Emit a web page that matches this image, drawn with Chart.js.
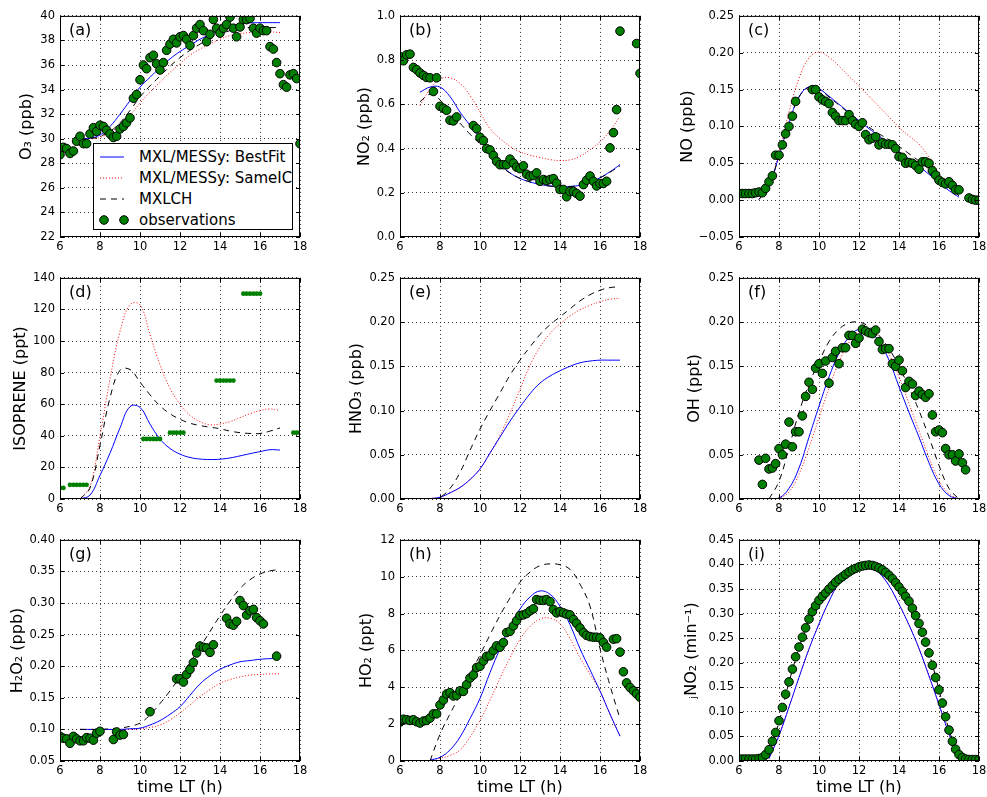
<!DOCTYPE html>
<html>
<head>
<meta charset="utf-8">
<script src="https://cdn.jsdelivr.net/npm/chart.js@4.4.0/dist/chart.umd.min.js"></script>
<style>
  html, body { margin: 0; padding: 0; background: #fff; }
  body { width: 987px; height: 797px; position: relative; overflow: hidden; font-family: "DejaVu Sans", sans-serif; }
  canvas { position: absolute; }
  .plab { position: absolute; font-size: 16px; line-height: 16px; color: #000; z-index: 5; }
  #legend { position: absolute; left: 93px; top: 143px; width: 200px; height: 87px; box-sizing: border-box;
            border: 1px solid #000; background: #fff; z-index: 6; font-size: 15px; color: #000; }
  #legend .row { position: absolute; left: 0; height: 20px; width: 198px; }
  #legend svg { position: absolute; left: 0; top: 0; }
  #legend span { position: absolute; left: 45px; top: 1px; line-height: 18px; white-space: nowrap; }
</style>
</head>
<body>

<div id="legend">
  <div class="row" style="top:3px">
    <svg width="40" height="20"><line x1="6" y1="10" x2="30" y2="10" stroke="#0000ff" stroke-width="1"/></svg>
    <span>MXL/MESSy: BestFit</span>
  </div>
  <div class="row" style="top:24px">
    <svg width="40" height="20"><line x1="6" y1="10" x2="30" y2="10" stroke="#ff0000" stroke-width="1" stroke-dasharray="1 2"/></svg>
    <span>MXL/MESSy: SameIC</span>
  </div>
  <div class="row" style="top:45px">
    <svg width="40" height="20"><line x1="6" y1="10" x2="30" y2="10" stroke="#000" stroke-width="1" stroke-dasharray="6 5"/></svg>
    <span>MXLCH</span>
  </div>
  <div class="row" style="top:66px">
    <svg width="40" height="20"><circle cx="10" cy="10" r="4.3" fill="#008000" stroke="#000" stroke-width="1"/><circle cx="30" cy="10" r="4.3" fill="#008000" stroke="#000" stroke-width="1"/></svg>
    <span>observations</span>
  </div>
</div>

<script>
// ---------------------------
// Shared time axes
// ---------------------------
const xTicks = [6, 8, 10, 12, 14, 16, 18];
const modelT = [7, 7.5, 8, 8.5, 9, 9.5, 10, 10.5, 11, 11.5, 12, 12.5, 13, 13.5, 14, 14.5, 15, 15.5, 16, 16.5, 17];
const obsT = [
  6.00, 6.17, 6.33, 6.50, 6.67, 6.83,
  7.00, 7.17, 7.33, 7.50, 7.67, 7.83,
  8.00, 8.17, 8.33, 8.50, 8.67, 8.83,
  9.00, 9.17, 9.33, 9.50, 9.67, 9.83,
  10.00, 10.17, 10.33, 10.50, 10.67, 10.83,
  11.00, 11.17, 11.33, 11.50, 11.67, 11.83,
  12.00, 12.17, 12.33, 12.50, 12.67, 12.83,
  13.00, 13.17, 13.33, 13.50, 13.67, 13.83,
  14.00, 14.17, 14.33, 14.50, 14.67, 14.83,
  15.00, 15.17, 15.33, 15.50, 15.67, 15.83,
  16.00, 16.17, 16.33, 16.50, 16.67, 16.83,
  17.00, 17.17, 17.33, 17.50, 17.67, 17.83,
  18.00
];

// ---------------------------
// (a) O3 (ppb)
// ---------------------------
const o3Ticks = [22, 24, 26, 28, 30, 32, 34, 36, 38, 40];
const o3Obs = [
  28.7, 29.3, 29.2, 28.8, 29.0, 29.8,
  30.2, 29.6, 29.6, 30.4, 30.9, 30.6,
  31.1, 31.0, 30.7, 30.4, 30.1, 30.2,
  30.8, 31.0, 31.3, 31.7, 33.3, 33.6,
  34.8, 36.0, 35.7, 36.6, 36.8, 36.1,
  35.6, 36.2, 37.2, 37.7, 38.1, 37.8,
  38.3, 38.4, 38.1, 37.6, 38.4, 39.0,
  39.3, 38.8, 37.9, 38.5, 39.7, 39.0,
  38.6, 39.0, 39.3, 39.9, 39.0, 38.3,
  39.1, 39.7, 39.7, 39.8, 39.0, 38.6,
  39.0, 38.8, 38.8, 37.5, 37.3, 36.2,
  35.3, 34.4, 34.2, 35.2, 35.3, 34.9,
  29.6
];
const o3Best  = [30.0, 30.05, 30.3, 31.0, 32.0, 33.1, 34.2, 35.0, 35.8, 36.5, 37.1, 37.6, 38.1, 38.5, 38.9, 39.2, 39.35, 39.43, 39.45, 39.45, 39.45];
const o3Same  = [30.0, 30.0, 30.1, 30.5, 31.1, 31.9, 32.9, 33.8, 34.6, 35.4, 36.1, 36.8, 37.3, 37.7, 38.1, 38.4, 38.55, 38.65, 38.7, 38.7, 38.65];
const o3Mxlch = [30.0, 30.0, 30.2, 30.6, 31.3, 32.3, 33.4, 34.3, 35.1, 35.9, 36.6, 37.2, 37.7, 38.2, 38.5, 38.8, 39.0, 39.05, 39.05, 39.05, 39.05];

// ---------------------------
// (b) NO2 (ppb)
// ---------------------------
const no2Ticks = [0.0, 0.2, 0.4, 0.6, 0.8, 1.0];
const no2Obs = [
  0.816, 0.797, 0.824, 0.827, 0.767, 0.757,
  0.742, 0.731, 0.722, 0.720, 0.658, 0.720,
  0.591, 0.582, 0.573, 0.528, 0.525, 0.543,
  null, null, null, null, 0.504, 0.490,
  0.451, 0.436, 0.400, 0.394, 0.369, 0.342,
  0.327, 0.327, 0.327, 0.352, 0.334, 0.316,
  0.309, 0.322, 0.284, 0.275, 0.278, 0.290,
  0.252, 0.260, 0.255, 0.260, 0.264, 0.243,
  0.215, 0.215, 0.182, 0.206, 0.206, 0.197,
  0.185, 0.237, 0.257, 0.276, 0.252, 0.231,
  0.242, 0.242, 0.252, 0.403, 0.472, 0.576,
  0.931, null, null, null, null, 0.875,
  0.740
];
const no2Best  = [0.655, 0.678, 0.678, 0.635, 0.565, 0.505, 0.445, 0.385, 0.330, 0.290, 0.265, 0.249, 0.238, 0.231, 0.228, 0.229, 0.234, 0.248, 0.268, 0.295, 0.327];
const no2Same  = [0.594, 0.670, 0.714, 0.720, 0.695, 0.640, 0.565, 0.490, 0.445, 0.410, 0.385, 0.370, 0.360, 0.350, 0.346, 0.349, 0.365, 0.395, 0.430, 0.480, 0.545];
const no2Mxlch = [0.612, 0.645, 0.620, 0.565, 0.515, 0.465, 0.420, 0.370, 0.324, 0.289, 0.265, 0.249, 0.237, 0.230, 0.227, 0.228, 0.233, 0.247, 0.267, 0.293, 0.322];

// ---------------------------
// (c) NO (ppb)
// ---------------------------
const noTicks = [-0.05, 0.00, 0.05, 0.10, 0.15, 0.20, 0.25];
const noObs = [
  0.009, 0.009, 0.009, 0.009, 0.009, 0.010,
  0.011, 0.010, 0.016, 0.025, 0.033, 0.061,
  0.061, 0.075, 0.090, 0.100, 0.114, 0.134,
  null, null, null, null, 0.150, 0.150,
  0.140, 0.136, 0.134, 0.131, 0.119, 0.114,
  0.108, 0.108, 0.108, 0.116, 0.108, 0.103,
  0.100, 0.105, 0.089, 0.082, 0.084, 0.086,
  0.075, 0.078, 0.076, 0.076, 0.075, 0.070,
  0.059, 0.058, 0.050, 0.051, 0.050, 0.047,
  0.042, 0.052, 0.052, 0.050, 0.040, 0.034,
  0.027, 0.024, 0.022, 0.025, 0.020, 0.014,
  0.014, null, null, 0.003, 0.001, 0.000,
  0.000
];
const noBest  = [0.001, 0.020, 0.060, 0.105, 0.140, 0.154, 0.151, 0.141, 0.130, 0.119, 0.108, 0.097, 0.087, 0.077, 0.066, 0.056, 0.046, 0.035, 0.024, 0.013, 0.004];
const noSame  = [0.001, 0.020, 0.065, 0.120, 0.165, 0.193, 0.201, 0.194, 0.182, 0.168, 0.155, 0.141, 0.127, 0.113, 0.099, 0.087, 0.076, 0.058, 0.036, 0.018, 0.006];
const noMxlch = [0.001, 0.020, 0.060, 0.105, 0.140, 0.153, 0.150, 0.140, 0.129, 0.118, 0.108, 0.099, 0.090, 0.082, 0.073, 0.063, 0.053, 0.042, 0.029, 0.017, 0.006];

// ---------------------------
// (d) ISOPRENE (ppt)
// ---------------------------
const isoTicks = [0, 20, 40, 60, 80, 100, 120, 140];
const isoObs = [
  7, 7, null, 9, 9, 9,
  9, 9, 9, null, null, null,
  null, null, null, null, null, null,
  null, null, null, null, null, null,
  null, 38, 38, 38, 38, 38,
  38, null, null, 42, 42, 42,
  42, 42, null, null, null, null,
  null, null, null, null, null, 75,
  75, 75, 75, 75, 75, null,
  null, 130, 130, 130, 130, 130,
  130, null, null, null, null, null,
  null, null, null, null, 42, 42,
  42
];
const isoBest  = [0, 2.5, 15, 29, 45, 58.5, 58, 47.4, 38, 32, 28.4, 26.3, 25.3, 25, 25.2, 26, 27.3, 28.7, 30, 31.2, 31];
const isoSame  = [0, 8, 40, 76, 106, 123, 123, 104, 85, 70, 60, 53, 49, 47, 47.5, 49, 51.5, 54, 56, 57, 56];
const isoMxlch = [0, 7, 34, 64, 81.5, 82, 74, 66, 59, 54, 50.5, 48, 46.5, 45.5, 44.5, 43, 42, 41.5, 41.5, 43, 45];

// ---------------------------
// (e) HNO3 (ppb)
// ---------------------------
const hno3Ticks = [0.00, 0.05, 0.10, 0.15, 0.20, 0.25];
const hno3Best  = [0, 0.0005, 0.002, 0.007, 0.013, 0.022, 0.034, 0.052, 0.070, 0.088, 0.104, 0.119, 0.131, 0.139, 0.145, 0.150, 0.154, 0.156, 0.157, 0.157, 0.157];
const hno3Same  = [0, 0.0005, 0.002, 0.007, 0.013, 0.022, 0.034, 0.052, 0.072, 0.097, 0.124, 0.151, 0.172, 0.187, 0.198, 0.207, 0.214, 0.219, 0.223, 0.226, 0.227];
const hno3Mxlch = [0, 0, 0.002, 0.012, 0.030, 0.055, 0.079, 0.100, 0.120, 0.140, 0.157, 0.172, 0.186, 0.197, 0.206, 0.215, 0.224, 0.231, 0.236, 0.239, 0.240];

// ---------------------------
// (f) OH (ppt)
// ---------------------------
const ohTicks = [0.00, 0.05, 0.10, 0.15, 0.20, 0.25];
const ohObs = [
  null, null, null, null, null, null,
  0.044, 0.0165, 0.046, 0.034, 0.035, 0.040,
  0.057, 0.050, 0.062, 0.087, 0.059, 0.076,
  0.076, 0.094, 0.116, 0.132, 0.124, 0.148,
  0.153, 0.142, 0.156, 0.131, 0.160, 0.167,
  0.153, 0.171, 0.171, 0.185, 0.185, 0.176,
  0.182, 0.192, 0.190, 0.188, 0.187, 0.191,
  0.178, 0.169, 0.170, 0.170, 0.153, 0.150,
  0.157, 0.145, 0.126, 0.133, 0.130, 0.117,
  0.122, 0.118, 0.115, 0.119, 0.095, 0.076,
  0.078, 0.075, 0.057, 0.050, 0.050, 0.043,
  0.051, 0.041, 0.033, null, null, null,
  null
];
const ohBest  = [null, 0, 0.001, 0.012, 0.035, 0.070, 0.105, 0.138, 0.165, 0.183, 0.192, 0.190, 0.178, 0.157, 0.127, 0.098, 0.070, 0.041, 0.017, 0.004, 0];
const ohSame  = [null, 0, 0.001, 0.008, 0.028, 0.058, 0.092, 0.125, 0.155, 0.177, 0.190, 0.192, 0.182, 0.164, 0.138, 0.108, 0.077, 0.047, 0.021, 0.006, 0];
const ohMxlch = [null, 0, 0.020, 0.058, 0.098, 0.130, 0.155, 0.178, 0.192, 0.199, 0.200, 0.195, 0.185, 0.170, 0.150, 0.126, 0.100, 0.070, 0.038, 0.012, 0];

// ---------------------------
// (g) H2O2 (ppb)
// ---------------------------
const h2o2Ticks = [0.05, 0.10, 0.15, 0.20, 0.25, 0.30, 0.35, 0.40];
const h2o2Obs = [
  0.089, 0.086, 0.085, 0.078, 0.089, 0.085,
  0.082, 0.082, 0.087, 0.086, 0.083, 0.094,
  0.097, null, null, null, 0.084, 0.096,
  0.091, 0.092, null, null, null, null,
  null, null, null, 0.128, null, null,
  null, null, null, null, null, 0.180,
  0.180, 0.175, 0.187, 0.195, 0.206, 0.221,
  0.232, 0.230, 0.229, 0.222, 0.234, null,
  null, null, 0.276, 0.267, 0.265, 0.271,
  0.304, 0.296, 0.281, 0.288, 0.290, 0.277,
  0.272, 0.267, null, null, null, 0.216,
  null, null, null, null, null, null,
  null
];
const h2o2Best  = [0.100, 0.100, 0.100, 0.100, 0.100, 0.101, 0.102, 0.107, 0.114, 0.124, 0.136, 0.154, 0.172, 0.185, 0.195, 0.202, 0.207, 0.209, 0.211, 0.212, 0.212];
const h2o2Same  = [0.100, 0.100, 0.100, 0.100, 0.100, 0.100, 0.101, 0.103, 0.107, 0.115, 0.126, 0.139, 0.152, 0.163, 0.173, 0.179, 0.183, 0.186, 0.187, 0.188, 0.188];
const h2o2Mxlch = [0.100, 0.100, 0.100, 0.101, 0.102, 0.105, 0.110, 0.123, 0.141, 0.161, 0.183, 0.206, 0.230, 0.255, 0.280, 0.303, 0.323, 0.337, 0.346, 0.351, 0.353];

// ---------------------------
// (h) HO2 (ppt)
// ---------------------------
const ho2Ticks = [0, 2, 4, 6, 8, 10, 12];
const ho2Obs = [
  2.11, 2.27, 2.24, 2.20, 2.24, 2.13,
  2.06, 2.17, 2.20, 2.33, 2.56, 2.56,
  3.04, 3.31, 3.64, 3.71, 3.53, 3.56,
  3.81, 3.78, 4.14, 4.50, 4.67, 5.07,
  5.14, 5.43, 5.68, 5.71, 6.00, 6.25,
  6.18, 6.43, 6.97, 7.04, 7.33, 7.61,
  7.90, 7.93, 8.00, 8.15, 8.26, 8.76,
  8.72, 8.72, 8.76, 8.65, 8.22, 8.04,
  8.11, 8.04, 7.97, 7.93, 7.68, 7.47,
  7.22, 6.97, 6.82, 6.75, 6.72, 6.72,
  6.68, 6.43, 6.18, null, 6.61, 6.64,
  5.91, 4.84, 4.24, 3.99, 3.81, 3.64,
  3.46
];
const ho2Best  = [null, 0.05, 0.2, 0.6, 1.3, 2.3, 3.4, 4.8, 6.1, 7.3, 8.25, 8.9, 9.23, 9.05, 8.4, 7.4, 6.1, 4.95, 3.8, 2.55, 1.35];
const ho2Same  = [null, 0.05, 0.15, 0.3, 0.6, 1.3, 2.2, 3.3, 4.5, 5.6, 6.6, 7.3, 7.7, 7.75, 7.45, 6.65, 5.6, 4.7, 3.8, 2.5, 1.35];
const ho2Mxlch = [null, 0, 1.45, 2.55, 3.6, 4.7, 5.75, 6.85, 7.9, 8.85, 9.7, 10.25, 10.6, 10.7, 10.65, 10.4, 9.6, 8.4, 6.1, 4.1, 2.3];

// ---------------------------
// (i) jNO2 (min-1)
// ---------------------------
const jno2Ticks = [0.00, 0.05, 0.10, 0.15, 0.20, 0.25, 0.30, 0.35, 0.40, 0.45];
const jno2Obs = [
  0.004, 0.004, 0.004, 0.004, 0.004, 0.004,
  0.005, 0.007, 0.013, 0.023, 0.040, 0.058,
  0.082, 0.109, 0.136, 0.161, 0.187, 0.212,
  0.232, 0.252, 0.271, 0.289, 0.304, 0.316,
  0.327, 0.335, 0.342, 0.350, 0.357, 0.364,
  0.370, 0.375, 0.380, 0.385, 0.389, 0.392,
  0.395, 0.397, 0.398, 0.399, 0.398, 0.396,
  0.393, 0.389, 0.384, 0.378, 0.371, 0.363,
  0.354, 0.345, 0.335, 0.325, 0.311, 0.296,
  0.280, 0.262, 0.242, 0.220, 0.195, 0.170,
  0.145, 0.118, 0.090, 0.063, 0.040, 0.024,
  0.013, 0.007, 0.004, 0.003, 0.003, 0.003,
  0.003
];
const jno2Best  = [null, 0.005, 0.052, 0.110, 0.170, 0.228, 0.279, 0.325, 0.363, 0.386, 0.398, 0.396, 0.383, 0.357, 0.319, 0.277, 0.229, 0.173, 0.115, 0.055, 0.003];
const jno2Same  = [null, 0.005, 0.052, 0.110, 0.170, 0.228, 0.279, 0.325, 0.363, 0.386, 0.398, 0.396, 0.383, 0.357, 0.319, 0.277, 0.229, 0.173, 0.115, 0.055, 0.003];
const jno2Mxlch = [0.005, 0.023, 0.080, 0.160, 0.230, 0.287, 0.327, 0.352, 0.371, 0.386, 0.396, 0.398, 0.392, 0.377, 0.352, 0.325, 0.280, 0.220, 0.145, 0.063, 0.013];

// ---------------------------
// Panel layout (plot-area top-left corner, title offset)
// ---------------------------
const panels = [
  { tag: '(a)', left: 60,  top: 14,  ticks: o3Ticks,   dec: 0, title: 'O\u2083 (ppb)',            gap: 33, obs: o3Obs,   best: o3Best,   same: o3Same,   mxlch: o3Mxlch },
  { tag: '(b)', left: 400, top: 14,  ticks: no2Ticks,  dec: 1, title: 'NO\u2082 (ppb)',           gap: 35, obs: no2Obs,  best: no2Best,  same: no2Same,  mxlch: no2Mxlch },
  { tag: '(c)', left: 739, top: 14,  ticks: noTicks,   dec: 2, title: 'NO (ppb)',                 gap: 51, obs: noObs,   best: noBest,   same: noSame,   mxlch: noMxlch },
  { tag: '(d)', left: 60,  top: 276, ticks: isoTicks,  dec: 0, title: 'ISOPRENE (ppt)',           gap: 39, obs: isoObs,  small: true, best: isoBest, same: isoSame, mxlch: isoMxlch },
  { tag: '(e)', left: 400, top: 276, ticks: hno3Ticks, dec: 2, title: 'HNO\u2083 (ppb)',          gap: 43, obs: null,    best: hno3Best, same: hno3Same, mxlch: hno3Mxlch },
  { tag: '(f)', left: 739, top: 276, ticks: ohTicks,   dec: 2, title: 'OH (ppt)',                 gap: 44, obs: ohObs,   best: ohBest,   same: ohSame,   mxlch: ohMxlch },
  { tag: '(g)', left: 60,  top: 538, ticks: h2o2Ticks, dec: 2, title: 'H\u2082O\u2082 (ppb)',     gap: 42, obs: h2o2Obs, best: h2o2Best, same: h2o2Same, mxlch: h2o2Mxlch, bottom: true },
  { tag: '(h)', left: 400, top: 538, ticks: ho2Ticks,  dec: 0, title: 'HO\u2082 (ppt)',           gap: 33, obs: ho2Obs,  best: ho2Best,  same: ho2Same,  mxlch: ho2Mxlch,  bottom: true },
  { tag: '(i)', left: 739, top: 538, ticks: jno2Ticks, dec: 2, title: '\u2C7CNO\u2082 (min\u207B\u00B9)', gap: 47, obs: jno2Obs, best: jno2Best, same: jno2Same, mxlch: jno2Mxlch, bottom: true }
];

const YW = 72, PT = 10, PR = 14, XH = 38, PW = 240, PH = 223;

Chart.defaults.font.family = '"DejaVu Sans", sans-serif';
Chart.defaults.color = '#000';

function pts(xs, ys) {
  return xs.map((x, i) => ({ x, y: ys[i] }));
}

function fmt(v, dec) {
  const s = Math.abs(v).toFixed(dec);
  return v < -1e-9 ? '\u2212' + s : s;
}

/* frame + inward tick marks, like the original axes box */
const boxPlugin = {
  id: 'box',
  afterDatasetsDraw(chart) {
    const { ctx, chartArea: a, scales } = chart;
    ctx.save();
    ctx.strokeStyle = '#000';
    ctx.lineWidth = 1;
    ctx.beginPath();
    scales.x.ticks.forEach(t => {
      const px = Math.round(scales.x.getPixelForValue(t.value)) + 0.5;
      ctx.moveTo(px, a.bottom); ctx.lineTo(px, a.bottom - 4);
      ctx.moveTo(px, a.top); ctx.lineTo(px, a.top + 4);
    });
    scales.y.ticks.forEach(t => {
      const py = Math.round(scales.y.getPixelForValue(t.value)) + 0.5;
      ctx.moveTo(a.left, py); ctx.lineTo(a.left + 4, py);
      ctx.moveTo(a.right, py); ctx.lineTo(a.right - 4, py);
    });
    ctx.stroke();
    ctx.strokeRect(a.left + 0.5, a.top + 0.5, a.right - a.left - 1, a.bottom - a.top - 1);
    ctx.restore();
  }
};

function lineDs(vals, color, dash, order) {
  return {
    data: pts(modelT, vals),
    showLine: true,
    borderColor: color,
    borderWidth: 1,
    borderDash: dash,
    pointRadius: 0,
    fill: false,
    tension: 0.4,
    clip: 0,
    order
  };
}

function buildPanel(p) {
  const cv = document.createElement('canvas');
  cv.width = YW + PW + PR;
  cv.height = PT + PH + XH;
  cv.style.left = (p.left - YW) + 'px';
  cv.style.top = (p.top - PT) + 'px';
  document.body.appendChild(cv);

  const lab = document.createElement('div');
  lab.className = 'plab';
  lab.textContent = p.tag;
  lab.style.left = (p.left + 9) + 'px';
  lab.style.top = (p.top + 8) + 'px';
  document.body.appendChild(lab);

  const datasets = [];
  if (p.obs) {
    datasets.push({
      data: pts(obsT, p.obs),
      pointRadius: p.small ? 2.4 : 4.3,
      pointBackgroundColor: '#008000',
      pointBorderColor: p.small ? '#008000' : '#000',
      pointBorderWidth: p.small ? 0 : 1,
      showLine: false,
      clip: 0,
      order: 0
    });
  }
  datasets.push(lineDs(p.mxlch, '#000000', [6, 5], 1));
  datasets.push(lineDs(p.best, '#0000ff', [], 2));
  datasets.push(lineDs(p.same, '#ff0000', [1, 2], 3));

  const ymin = p.ticks[0], ymax = p.ticks[p.ticks.length - 1];

  new Chart(cv, {
    type: 'scatter',
    data: { datasets },
    options: {
      responsive: false,
      animation: false,
      events: [],
      layout: { padding: { top: PT, right: PR, left: 0, bottom: 0 } },
      plugins: { legend: { display: false }, tooltip: { enabled: false } },
      scales: {
        x: {
          type: 'linear',
          min: 6, max: 18,
          afterBuildTicks: s => { s.ticks = xTicks.map(v => ({ value: v })); },
          afterFit: s => { s.height = XH; },
          grid: { color: '#333', lineWidth: 1, drawTicks: false },
          border: { display: false, dash: [1, 3] },
          ticks: { font: { size: 11.5 }, color: '#000', padding: 3, maxRotation: 0, autoSkip: false,
                   callback: v => String(v) },
          title: { display: !!p.bottom, text: 'time LT (h)', font: { size: 16 }, color: '#000',
                   padding: { top: 0, bottom: 1.5 } }
        },
        y: {
          type: 'linear',
          min: ymin, max: ymax,
          afterBuildTicks: s => { s.ticks = p.ticks.map(v => ({ value: v })); },
          afterFit: s => { s.width = YW; },
          grid: { color: '#333', lineWidth: 1, drawTicks: false },
          border: { display: false, dash: [1, 3] },
          ticks: { font: { size: 11.5 }, color: '#000', padding: 5, autoSkip: false,
                   callback: v => fmt(v, p.dec) },
          title: { display: true, text: p.title, font: { size: 16 }, color: '#000',
                   padding: { top: YW - p.gap - 9.6, bottom: 0 } }
        }
      }
    },
    plugins: [boxPlugin]
  });
}

panels.forEach(buildPanel);
</script>
</body>
</html>
